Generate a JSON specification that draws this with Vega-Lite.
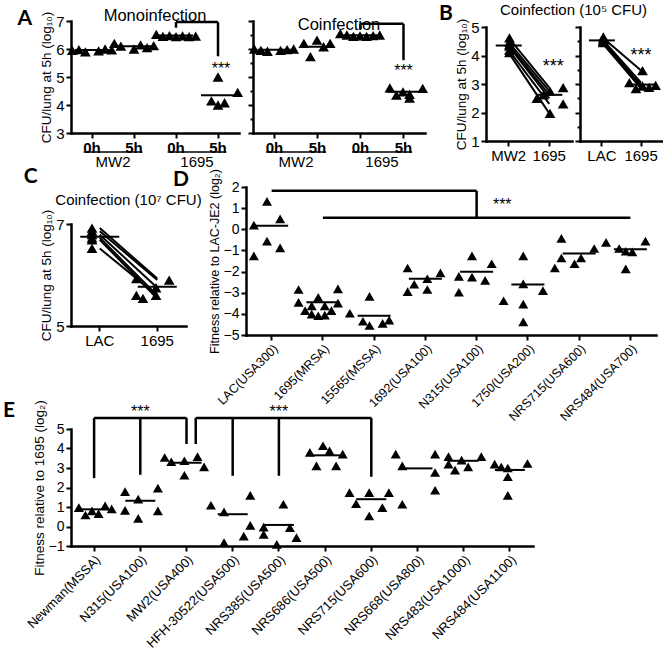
{
  "$schema": "https://vega.github.io/schema/vega-lite/v6.json",
  "background": "white",
  "padding": {"left": 3, "top": 2, "right": 0, "bottom": 0},
  "config": {
    "font": "Liberation Sans",
    "view": {"stroke": null},
    "axis": {
      "domainColor": "black", "domainWidth": 2.5, "domainCap": "square",
      "tickColor": "black", "tickWidth": 2, "tickSize": 5,
      "labelColor": "black", "labelFont": "Liberation Sans", "labelFontSize": 15, "labelPadding": 2, "labelOverlap": false,
      "titleColor": "black", "titleFont": "Liberation Sans", "titleFontSize": 14, "titleFontWeight": "normal", "titlePadding": 2,
      "grid": false
    },
    "title": {"font": "Liberation Sans", "fontSize": 16.5, "fontWeight": "normal", "color": "black", "anchor": "middle"},
    "tick": {"color": "black", "thickness": 2, "opacity": 1},
    "point": {"shape": "triangle-up", "filled": true, "color": "black", "opacity": 1},
    "rule": {"color": "black", "strokeWidth": 2.5},
    "text": {"color": "black"}
  },
  "datasets": {
    "spacer": [{}],
    "aMono": [
      {"cond": "MW2 0h", "rep": "a", "v": 5.95}, {"cond": "MW2 0h", "rep": "b", "v": 5.98}, {"cond": "MW2 0h", "rep": "c", "v": 5.9},
      {"cond": "MW2 0h", "rep": "e", "v": 5.93}, {"cond": "MW2 0h", "rep": "f", "v": 6.0}, {"cond": "MW2 0h", "rep": "g", "v": 5.97},
      {"cond": "MW2 5h", "rep": "a", "v": 6.2}, {"cond": "MW2 5h", "rep": "b", "v": 6.1}, {"cond": "MW2 5h", "rep": "d", "v": 6.0},
      {"cond": "MW2 5h", "rep": "e", "v": 6.15}, {"cond": "MW2 5h", "rep": "f", "v": 6.05}, {"cond": "MW2 5h", "rep": "g", "v": 6.12},
      {"cond": "1695 0h", "rep": "a", "v": 6.52}, {"cond": "1695 0h", "rep": "b", "v": 6.45}, {"cond": "1695 0h", "rep": "c", "v": 6.48},
      {"cond": "1695 0h", "rep": "d", "v": 6.44}, {"cond": "1695 0h", "rep": "e", "v": 6.47}, {"cond": "1695 0h", "rep": "f", "v": 6.44},
      {"cond": "1695 0h", "rep": "g", "v": 6.46},
      {"cond": "1695 5h", "rep": "c", "v": 4.15}, {"cond": "1695 5h", "rep": "d", "v": 5.0}, {"cond": "1695 5h", "rep": "d", "v": 4.0},
      {"cond": "1695 5h", "rep": "e", "v": 4.08}, {"cond": "1695 5h", "rep": "g", "v": 4.45}
    ],
    "aMonoMean": [
      {"cond": "MW2 0h", "v": 5.96}, {"cond": "MW2 5h", "v": 6.1}, {"cond": "1695 0h", "v": 6.48}, {"cond": "1695 5h", "v": 4.35}
    ],
    "aMonoBr": [
      {"c1": "1695 0h", "c2": "1695 5h", "y1": 6.96, "y2": 6.96},
      {"c1": "1695 0h", "c2": "1695 0h", "y1": 6.96, "y2": 6.76},
      {"c1": "1695 5h", "c2": "1695 5h", "y1": 6.96, "y2": 5.74}
    ],
    "aMonoStar": [{"cond": "1695 5h", "v": 5.3, "t": "***"}],
    "aCo": [
      {"cond": "MW2 0h", "rep": "a", "v": 6.0}, {"cond": "MW2 0h", "rep": "b", "v": 5.95}, {"cond": "MW2 0h", "rep": "c", "v": 5.92},
      {"cond": "MW2 0h", "rep": "e", "v": 5.95}, {"cond": "MW2 0h", "rep": "f", "v": 5.98}, {"cond": "MW2 0h", "rep": "g", "v": 6.0},
      {"cond": "MW2 5h", "rep": "b", "v": 6.2}, {"cond": "MW2 5h", "rep": "d", "v": 6.32}, {"cond": "MW2 5h", "rep": "f", "v": 6.2},
      {"cond": "MW2 5h", "rep": "e", "v": 6.08}, {"cond": "MW2 5h", "rep": "c", "v": 5.73},
      {"cond": "1695 0h", "rep": "a", "v": 6.55}, {"cond": "1695 0h", "rep": "b", "v": 6.5}, {"cond": "1695 0h", "rep": "c", "v": 6.45},
      {"cond": "1695 0h", "rep": "d", "v": 6.47}, {"cond": "1695 0h", "rep": "e", "v": 6.45}, {"cond": "1695 0h", "rep": "f", "v": 6.48},
      {"cond": "1695 0h", "rep": "g", "v": 6.5},
      {"cond": "1695 5h", "rep": "b", "v": 4.61}, {"cond": "1695 5h", "rep": "d", "v": 4.47}, {"cond": "1695 5h", "rep": "e", "v": 4.38},
      {"cond": "1695 5h", "rep": "g", "v": 4.59}, {"cond": "1695 5h", "rep": "e", "v": 4.25}, {"cond": "1695 5h", "rep": "c", "v": 4.35}
    ],
    "aCoMean": [
      {"cond": "MW2 0h", "v": 5.97}, {"cond": "MW2 5h", "v": 6.08}, {"cond": "1695 0h", "v": 6.49}, {"cond": "1695 5h", "v": 4.47}
    ],
    "aCoBr": [
      {"c1": "1695 0h", "c2": "1695 5h", "y1": 6.9, "y2": 6.9},
      {"c1": "1695 0h", "c2": "1695 0h", "y1": 6.9, "y2": 6.7},
      {"c1": "1695 5h", "c2": "1695 5h", "y1": 6.9, "y2": 5.6}
    ],
    "aCoStar": [{"cond": "1695 5h", "v": 5.21, "t": "***"}],
    "aGroups": [
      {"g": "MW2", "at": "MW2 0h", "to": "MW2 5h"},
      {"g": "1695", "at": "1695 0h", "to": "1695 5h"}
    ],
    "bl": [
      {"pair": 1, "cat": "MW2", "rep": "d", "v": 4.62}, {"pair": 1, "cat": "1695", "rep": "f", "v": 2.87},
      {"pair": 2, "cat": "MW2", "rep": "d", "v": 4.47}, {"pair": 2, "cat": "1695", "rep": "d", "v": 2.75},
      {"pair": 3, "cat": "MW2", "rep": "d", "v": 4.38}, {"pair": 3, "cat": "1695", "rep": "c", "v": 2.62},
      {"pair": 4, "cat": "MW2", "rep": "d", "v": 4.33}, {"pair": 4, "cat": "1695", "rep": "b", "v": 2.5},
      {"pair": 5, "cat": "MW2", "rep": "d", "v": 4.19}, {"pair": 5, "cat": "1695", "rep": "f", "v": 2.3},
      {"pair": 6, "cat": "MW2", "rep": "d", "v": 4.1}, {"pair": 6, "cat": "1695", "rep": "d", "v": 1.97}
    ],
    "blMean": [{"cat": "MW2", "v": 4.35}, {"cat": "1695", "v": 2.62}],
    "blStar": [{"cat": "1695", "v": 3.6, "t": "***"}],
    "br": [
      {"pair": 1, "cat": "LAC", "rep": "d", "v": 4.65}, {"pair": 1, "cat": "1695", "rep": "d", "v": 3.47},
      {"pair": 2, "cat": "LAC", "rep": "d", "v": 4.58}, {"pair": 2, "cat": "1695", "rep": "b", "v": 3.05},
      {"pair": 3, "cat": "LAC", "rep": "d", "v": 4.53}, {"pair": 3, "cat": "1695", "rep": "d", "v": 2.93},
      {"pair": 4, "cat": "LAC", "rep": "d", "v": 4.5}, {"pair": 4, "cat": "1695", "rep": "f", "v": 2.95},
      {"pair": 5, "cat": "LAC", "rep": "d", "v": 4.47}, {"pair": 5, "cat": "1695", "rep": "c", "v": 2.84},
      {"pair": 6, "cat": "LAC", "rep": "d", "v": 4.45}, {"pair": 6, "cat": "1695", "rep": "e", "v": 2.88}
    ],
    "brMean": [{"cat": "LAC", "v": 4.53}, {"cat": "1695", "v": 2.98}],
    "brStar": [{"cat": "1695", "v": 3.97, "t": "***"}],
    "c": [
      {"pair": 1, "cat": "LAC", "rep": "d", "v": 6.92}, {"pair": 1, "cat": "1695", "rep": "b", "v": 5.93},
      {"pair": 2, "cat": "LAC", "rep": "d", "v": 6.86}, {"pair": 2, "cat": "1695", "rep": "g", "v": 5.9},
      {"pair": 3, "cat": "LAC", "rep": "d", "v": 6.79}, {"pair": 3, "cat": "1695", "rep": "e", "v": 5.75},
      {"pair": 4, "cat": "LAC", "rep": "d", "v": 6.73}, {"pair": 4, "cat": "1695", "rep": "e", "v": 5.6},
      {"pair": 5, "cat": "LAC", "rep": "d", "v": 6.69}, {"pair": 5, "cat": "1695", "rep": "c", "v": 5.54},
      {"pair": 6, "cat": "LAC", "rep": "d", "v": 6.52}, {"pair": 6, "cat": "1695", "rep": "b", "v": 5.6}
    ],
    "cMean": [{"cat": "LAC", "v": 6.75}, {"cat": "1695", "v": 5.77}],
    "d": [
      {"cat": "LAC(USA300)", "rep": "d", "v": 1.32}, {"cat": "LAC(USA300)", "rep": "f", "v": 0.49}, {"cat": "LAC(USA300)", "rep": "b", "v": 0.2},
      {"cat": "LAC(USA300)", "rep": "d", "v": -0.56}, {"cat": "LAC(USA300)", "rep": "f", "v": -0.88}, {"cat": "LAC(USA300)", "rep": "b", "v": -1.26},
      {"cat": "1695(MRSA)", "rep": "a", "v": -2.85}, {"cat": "1695(MRSA)", "rep": "g", "v": -2.82}, {"cat": "1695(MRSA)", "rep": "d", "v": -3.22},
      {"cat": "1695(MRSA)", "rep": "a", "v": -3.46}, {"cat": "1695(MRSA)", "rep": "g", "v": -3.49}, {"cat": "1695(MRSA)", "rep": "c", "v": -3.62},
      {"cat": "1695(MRSA)", "rep": "e", "v": -3.62}, {"cat": "1695(MRSA)", "rep": "b", "v": -3.85}, {"cat": "1695(MRSA)", "rep": "f", "v": -3.85},
      {"cat": "1695(MRSA)", "rep": "c", "v": -4.01}, {"cat": "1695(MRSA)", "rep": "e", "v": -4.06}, {"cat": "1695(MRSA)", "rep": "d", "v": -4.09},
      {"cat": "15565(MSSA)", "rep": "d", "v": -3.17}, {"cat": "15565(MSSA)", "rep": "a", "v": -3.97}, {"cat": "15565(MSSA)", "rep": "c", "v": -4.35},
      {"cat": "15565(MSSA)", "rep": "d", "v": -4.55}, {"cat": "15565(MSSA)", "rep": "f", "v": -4.45}, {"cat": "15565(MSSA)", "rep": "g", "v": -4.3},
      {"cat": "1692(USA100)", "rep": "b", "v": -1.83}, {"cat": "1692(USA100)", "rep": "e", "v": -2.34}, {"cat": "1692(USA100)", "rep": "g", "v": -2.06},
      {"cat": "1692(USA100)", "rep": "c", "v": -2.6}, {"cat": "1692(USA100)", "rep": "b", "v": -2.95}, {"cat": "1692(USA100)", "rep": "e", "v": -2.85},
      {"cat": "N315(USA100)", "rep": "d", "v": -1.26}, {"cat": "N315(USA100)", "rep": "g", "v": -1.63}, {"cat": "N315(USA100)", "rep": "b", "v": -2.23},
      {"cat": "N315(USA100)", "rep": "d", "v": -2.26}, {"cat": "N315(USA100)", "rep": "f", "v": -2.42}, {"cat": "N315(USA100)", "rep": "b", "v": -2.98},
      {"cat": "1750(USA200)", "rep": "d", "v": -1.26}, {"cat": "1750(USA200)", "rep": "d", "v": -2.58}, {"cat": "1750(USA200)", "rep": "g", "v": -2.9},
      {"cat": "1750(USA200)", "rep": "a", "v": -3.38}, {"cat": "1750(USA200)", "rep": "d", "v": -3.54}, {"cat": "1750(USA200)", "rep": "d", "v": -4.38},
      {"cat": "NRS715(USA600)", "rep": "b", "v": -0.43}, {"cat": "NRS715(USA600)", "rep": "g", "v": -0.91}, {"cat": "NRS715(USA600)", "rep": "b", "v": -1.36},
      {"cat": "NRS715(USA600)", "rep": "e", "v": -1.36}, {"cat": "NRS715(USA600)", "rep": "d", "v": -1.63}, {"cat": "NRS715(USA600)", "rep": "a", "v": -1.83},
      {"cat": "NRS484(USA700)", "rep": "a", "v": -0.62}, {"cat": "NRS484(USA700)", "rep": "g", "v": -0.56}, {"cat": "NRS484(USA700)", "rep": "c", "v": -0.91},
      {"cat": "NRS484(USA700)", "rep": "d", "v": -1.04}, {"cat": "NRS484(USA700)", "rep": "e", "v": -1.07}, {"cat": "NRS484(USA700)", "rep": "d", "v": -1.87}
    ],
    "dMean": [
      {"cat": "LAC(USA300)", "v": 0.17}, {"cat": "1695(MRSA)", "v": -3.45}, {"cat": "15565(MSSA)", "v": -4.09}, {"cat": "1692(USA100)", "v": -2.34},
      {"cat": "N315(USA100)", "v": -2.01}, {"cat": "1750(USA200)", "v": -2.61}, {"cat": "NRS715(USA600)", "v": -1.15}, {"cat": "NRS484(USA700)", "v": -0.94}
    ],
    "dBr": [
      {"c1": "LAC(USA300)", "c2": "N315(USA100)", "y1": 1.82, "y2": 1.82},
      {"c1": "N315(USA100)", "c2": "N315(USA100)", "y1": 1.82, "y2": 0.55},
      {"c1": "1695(MRSA)", "c2": "NRS484(USA700)", "y1": 0.55, "y2": 0.55}
    ],
    "dStar": [{"cat": "1750(USA200)", "v": 1.16, "t": "***"}],
    "e": [
      {"cat": "Newman(MSSA)", "rep": "b", "v": 0.97}, {"cat": "Newman(MSSA)", "rep": "c", "v": 0.59}, {"cat": "Newman(MSSA)", "rep": "d", "v": 0.8},
      {"cat": "Newman(MSSA)", "rep": "e", "v": 0.66}, {"cat": "Newman(MSSA)", "rep": "f", "v": 1.06}, {"cat": "Newman(MSSA)", "rep": "g", "v": 0.9},
      {"cat": "N315(USA100)", "rep": "b", "v": 1.79}, {"cat": "N315(USA100)", "rep": "b", "v": 0.83}, {"cat": "N315(USA100)", "rep": "d", "v": 1.4},
      {"cat": "N315(USA100)", "rep": "d", "v": 0.42}, {"cat": "N315(USA100)", "rep": "g", "v": 1.97}, {"cat": "N315(USA100)", "rep": "g", "v": 0.8},
      {"cat": "MW2(USA400)", "rep": "a", "v": 3.54}, {"cat": "MW2(USA400)", "rep": "b", "v": 3.32}, {"cat": "MW2(USA400)", "rep": "d", "v": 3.37},
      {"cat": "MW2(USA400)", "rep": "f", "v": 3.58}, {"cat": "MW2(USA400)", "rep": "g", "v": 3.06}, {"cat": "MW2(USA400)", "rep": "d", "v": 2.63},
      {"cat": "HFH-30522(USA500)", "rep": "a", "v": 1.09}, {"cat": "HFH-30522(USA500)", "rep": "c", "v": 0.75}, {"cat": "HFH-30522(USA500)", "rep": "g", "v": 1.6},
      {"cat": "HFH-30522(USA500)", "rep": "g", "v": 0.06}, {"cat": "HFH-30522(USA500)", "rep": "f", "v": -0.49}, {"cat": "HFH-30522(USA500)", "rep": "c", "v": -0.83},
      {"cat": "NRS385(USA500)", "rep": "e", "v": 1.14}, {"cat": "NRS385(USA500)", "rep": "b", "v": -0.03}, {"cat": "NRS385(USA500)", "rep": "f", "v": -0.06},
      {"cat": "NRS385(USA500)", "rep": "b", "v": -0.4}, {"cat": "NRS385(USA500)", "rep": "g", "v": -0.57}, {"cat": "NRS385(USA500)", "rep": "d", "v": -0.92},
      {"cat": "NRS686(USA500)", "rep": "b", "v": 3.8}, {"cat": "NRS686(USA500)", "rep": "d", "v": 4.14}, {"cat": "NRS686(USA500)", "rep": "g", "v": 3.71},
      {"cat": "NRS686(USA500)", "rep": "c", "v": 3.11}, {"cat": "NRS686(USA500)", "rep": "f", "v": 3.11}, {"cat": "NRS686(USA500)", "rep": "e", "v": 3.88},
      {"cat": "NRS715(USA600)", "rep": "a", "v": 1.74}, {"cat": "NRS715(USA600)", "rep": "d", "v": 1.74}, {"cat": "NRS715(USA600)", "rep": "g", "v": 1.74},
      {"cat": "NRS715(USA600)", "rep": "b", "v": 1.17}, {"cat": "NRS715(USA600)", "rep": "f", "v": 0.97}, {"cat": "NRS715(USA600)", "rep": "d", "v": 0.54},
      {"cat": "NRS668(USA800)", "rep": "a", "v": 3.71}, {"cat": "NRS668(USA800)", "rep": "g", "v": 3.71}, {"cat": "NRS668(USA800)", "rep": "b", "v": 3.11},
      {"cat": "NRS668(USA800)", "rep": "g", "v": 2.77}, {"cat": "NRS668(USA800)", "rep": "g", "v": 1.86}, {"cat": "NRS668(USA800)", "rep": "b", "v": 1.14},
      {"cat": "NRS483(USA1000)", "rep": "b", "v": 3.58}, {"cat": "NRS483(USA1000)", "rep": "g", "v": 3.58}, {"cat": "NRS483(USA1000)", "rep": "b", "v": 3.2},
      {"cat": "NRS483(USA1000)", "rep": "e", "v": 3.06}, {"cat": "NRS483(USA1000)", "rep": "c", "v": 2.89}, {"cat": "NRS483(USA1000)", "rep": "d", "v": 3.4},
      {"cat": "NRS484(USA1100)", "rep": "b", "v": 3.2}, {"cat": "NRS484(USA1100)", "rep": "g", "v": 3.23}, {"cat": "NRS484(USA1100)", "rep": "d", "v": 3.0},
      {"cat": "NRS484(USA1100)", "rep": "c", "v": 3.05}, {"cat": "NRS484(USA1100)", "rep": "d", "v": 2.55}, {"cat": "NRS484(USA1100)", "rep": "d", "v": 1.6}
    ],
    "eMean": [
      {"cat": "Newman(MSSA)", "v": 0.88}, {"cat": "N315(USA100)", "v": 1.32}, {"cat": "MW2(USA400)", "v": 3.27}, {"cat": "HFH-30522(USA500)", "v": 0.63},
      {"cat": "NRS385(USA500)", "v": 0.08}, {"cat": "NRS686(USA500)", "v": 3.65}, {"cat": "NRS715(USA600)", "v": 1.4}, {"cat": "NRS668(USA800)", "v": 2.98},
      {"cat": "NRS483(USA1000)", "v": 3.37}, {"cat": "NRS484(USA1100)", "v": 2.9}
    ],
    "eBr": [
      {"c1": "Newman(MSSA)", "c2": "MW2(USA400)", "y1": 5.57, "y2": 5.57},
      {"c1": "Newman(MSSA)", "c2": "Newman(MSSA)", "y1": 5.57, "y2": 2.48},
      {"c1": "N315(USA100)", "c2": "N315(USA100)", "y1": 5.57, "y2": 2.65},
      {"c1": "MW2(USA400)", "c2": "MW2(USA400)", "y1": 5.57, "y2": 4.23},
      {"c1": "HFH-30522(USA500)", "c2": "HFH-30522(USA500)", "y1": 5.57, "y2": 2.6},
      {"c1": "NRS385(USA500)", "c2": "NRS385(USA500)", "y1": 5.57, "y2": 2.6},
      {"c1": "NRS715(USA600)", "c2": "NRS715(USA600)", "y1": 5.57, "y2": 2.55}
    ],
    "eBr2": [{"c1": "MW2(USA400)", "c2": "NRS715(USA600)", "y1": 5.57, "y2": 4.23}],
    "eStar": [{"cat": "N315(USA100)", "v": 5.85, "t": "***"}, {"cat": "NRS385(USA500)", "v": 5.85, "t": "***"}]
  },
  "vconcat": [
    {
      "hconcat": [
        {
          "title": {"text": "A", "orient": "left", "anchor": "end", "angle": 0, "baseline": "top", "align": "right", "font": "Lato", "fontSize": 21, "fontWeight": "bold", "offset": -7},
          "hconcat": [
            {
              "width": 168, "height": 112,
              "title": {"text": "Monoinfection", "offset": -13},
              "layer": [
                {"data": {"name": "aMono"}, "mark": {"type": "point", "size": 115},
                 "encoding": {
                   "x": {"field": "cond", "type": "nominal", "title": null, "scale": {"domain": ["MW2 0h", "MW2 5h", "1695 0h", "1695 5h"], "paddingInner": 0, "paddingOuter": 0},
                         "axis": {"title": null, "labelExpr": "split(datum.label, ' ')[1]", "labelFontWeight": "bold", "labelAngle": 0, "labelFontSize": 15}},
                   "xOffset": {"field": "rep", "type": "nominal", "scale": {"domain": ["a", "b", "c", "d", "e", "f", "g"], "paddingOuter": 0.2}},
                   "y": {"field": "v", "type": "quantitative", "scale": {"domain": [3, 7]}, "axis": {"values": [3, 4, 5, 6, 7], "tickCount": 100, "format": "d", "title": "CFU/lung at 5h (log₁₀)", "titleFontSize": 13.5}}
                 }},
                {"data": {"name": "aMonoMean"}, "mark": {"type": "tick", "size": 34},
                 "encoding": {"x": {"field": "cond", "type": "nominal", "title": null}, "y": {"field": "v", "type": "quantitative"}}},
                {"data": {"name": "aMonoBr"}, "mark": {"type": "rule"},
                 "encoding": {"x": {"field": "c1", "type": "nominal", "title": null}, "x2": {"field": "c2"}, "y": {"field": "y1", "type": "quantitative"}, "y2": {"field": "y2"}}},
                {"data": {"name": "aMonoStar"}, "mark": {"type": "text", "fontSize": 16, "baseline": "middle", "dx": 3},
                 "encoding": {"x": {"field": "cond", "type": "nominal", "title": null}, "y": {"field": "v", "type": "quantitative"}, "text": {"field": "t"}}},
                {"data": {"name": "aGroups"}, "mark": {"type": "text", "fontSize": 15, "baseline": "middle"},
                 "encoding": {"x": {"field": "at", "type": "nominal", "bandPosition": 1, "title": null}, "y": {"datum": 1.95}, "text": {"field": "g"}}},
                {"data": {"name": "aGroups"}, "mark": {"type": "rule", "strokeWidth": 1.5},
                 "encoding": {"x": {"field": "at", "type": "nominal", "bandPosition": 0.3, "title": null}, "x2": {"field": "to", "bandPosition": 0.7}, "y": {"datum": 2.32}}}
              ]
            },
            {
              "width": 172, "height": 112,
              "title": {"text": "Coinfection", "offset": -13},
              "layer": [
                {"data": {"name": "aCo"}, "mark": {"type": "point", "size": 115},
                 "encoding": {
                   "x": {"field": "cond", "type": "nominal", "title": null, "scale": {"domain": ["MW2 0h", "MW2 5h", "1695 0h", "1695 5h"], "paddingInner": 0, "paddingOuter": 0},
                         "axis": {"title": null, "labelExpr": "split(datum.label, ' ')[1]", "labelFontWeight": "bold", "labelAngle": 0, "labelFontSize": 15}},
                   "xOffset": {"field": "rep", "type": "nominal", "scale": {"domain": ["a", "b", "c", "d", "e", "f", "g"], "paddingOuter": 0.2}},
                   "y": {"field": "v", "type": "quantitative", "scale": {"domain": [3, 7]},
                         "axis": {"values": [3, 3.5, 4, 4.5, 5, 5.5, 6, 6.5, 7], "tickCount": 100, "labels": false, "title": null,
                                  "tickSize": {"condition": {"test": "datum.value % 1 == 0", "value": 5}, "value": 3}}}
                 }},
                {"data": {"name": "aCoMean"}, "mark": {"type": "tick", "size": 34},
                 "encoding": {"x": {"field": "cond", "type": "nominal", "title": null}, "y": {"field": "v", "type": "quantitative"}}},
                {"data": {"name": "aCoBr"}, "mark": {"type": "rule"},
                 "encoding": {"x": {"field": "c1", "type": "nominal", "title": null}, "x2": {"field": "c2"}, "y": {"field": "y1", "type": "quantitative"}, "y2": {"field": "y2"}}},
                {"data": {"name": "aCoStar"}, "mark": {"type": "text", "fontSize": 16, "baseline": "middle"},
                 "encoding": {"x": {"field": "cond", "type": "nominal", "title": null}, "y": {"field": "v", "type": "quantitative"}, "text": {"field": "t"}}},
                {"data": {"name": "aGroups"}, "mark": {"type": "text", "fontSize": 15, "baseline": "middle"},
                 "encoding": {"x": {"field": "at", "type": "nominal", "bandPosition": 1, "title": null}, "y": {"datum": 1.95}, "text": {"field": "g"}}},
                {"data": {"name": "aGroups"}, "mark": {"type": "rule", "strokeWidth": 1.5},
                 "encoding": {"x": {"field": "at", "type": "nominal", "bandPosition": 0.3, "title": null}, "x2": {"field": "to", "bandPosition": 0.7}, "y": {"datum": 2.32}}}
              ]
            }
          ],
          "spacing": 3
        },
        {
          "title": {"text": "B", "orient": "left", "anchor": "end", "angle": 0, "baseline": "top", "align": "right", "font": "Lato", "fontSize": 21, "fontWeight": "bold", "offset": -12},
          "vconcat": [
            {"width": 1, "height": 1, "data": {"name": "spacer"}, "mark": {"type": "text"}, "encoding": {"text": {"value": ""}},
             "title": {"text": "Coinfection (10⁵ CFU)", "fontSize": 15, "anchor": "start", "frame": "group", "dx": 14, "offset": -2}},
            {
              "hconcat": [
                {
                  "width": 86, "height": 114,
                  "layer": [
                    {"data": {"name": "bl"}, "mark": {"type": "line", "color": "black", "strokeWidth": 2},
                     "encoding": {
                       "x": {"field": "cat", "type": "nominal", "title": null, "scale": {"domain": ["MW2", "1695"], "paddingInner": 0, "paddingOuter": 0.06}, "axis": {"title": null, "labelAngle": 0, "labelFontSize": 15}},
                       "y": {"field": "v", "type": "quantitative", "scale": {"domain": [1, 5]}, "axis": {"values": [1, 2, 3, 4, 5], "tickCount": 100, "format": "d", "title": "CFU/lung at 5h (log₁₀)", "titleFontSize": 13.5}},
                       "detail": {"field": "pair", "type": "nominal"}
                     }},
                    {"data": {"name": "bl"}, "mark": {"type": "point", "size": 115},
                     "encoding": {
                       "x": {"field": "cat", "type": "nominal", "title": null},
                       "xOffset": {"field": "rep", "type": "nominal", "scale": {"domain": ["a", "b", "c", "d", "e", "f", "g"], "paddingOuter": 5}},
                       "y": {"field": "v", "type": "quantitative"}
                     }},
                    {"data": {"name": "blMean"}, "mark": {"type": "tick", "size": 26},
                     "encoding": {"x": {"field": "cat", "type": "nominal", "title": null}, "y": {"field": "v", "type": "quantitative"}}},
                    {"data": {"name": "blStar"}, "mark": {"type": "text", "fontSize": 18, "baseline": "middle", "dx": 4},
                     "encoding": {"x": {"field": "cat", "type": "nominal", "title": null}, "y": {"field": "v", "type": "quantitative"}, "text": {"field": "t"}}}
                  ]
                },
                {
                  "width": 83, "height": 114,
                  "layer": [
                    {"data": {"name": "br"}, "mark": {"type": "line", "color": "black", "strokeWidth": 2},
                     "encoding": {
                       "x": {"field": "cat", "type": "nominal", "title": null, "scale": {"domain": ["LAC", "1695"], "paddingInner": 0, "paddingOuter": 0.06}, "axis": {"title": null, "labelAngle": 0, "labelFontSize": 15}},
                       "y": {"field": "v", "type": "quantitative", "scale": {"domain": [1, 5]},
                             "axis": {"values": [1, 1.5, 2, 2.5, 3, 3.5, 4, 4.5, 5], "tickCount": 100, "labels": false, "title": null,
                                      "tickSize": {"condition": {"test": "datum.value % 1 == 0", "value": 5}, "value": 3}}},
                       "detail": {"field": "pair", "type": "nominal"}
                     }},
                    {"data": {"name": "br"}, "mark": {"type": "point", "size": 115},
                     "encoding": {
                       "x": {"field": "cat", "type": "nominal", "title": null},
                       "xOffset": {"field": "rep", "type": "nominal", "scale": {"domain": ["a", "b", "c", "d", "e", "f", "g"], "paddingOuter": 5}},
                       "y": {"field": "v", "type": "quantitative"}
                     }},
                    {"data": {"name": "brMean"}, "mark": {"type": "tick", "size": 26},
                     "encoding": {"x": {"field": "cat", "type": "nominal", "title": null}, "y": {"field": "v", "type": "quantitative"}}},
                    {"data": {"name": "brStar"}, "mark": {"type": "text", "fontSize": 18, "baseline": "middle"},
                     "encoding": {"x": {"field": "cat", "type": "nominal", "title": null}, "y": {"field": "v", "type": "quantitative"}, "text": {"field": "t"}}}
                  ]
                }
              ],
              "spacing": 2
            }
          ],
          "spacing": -15
        }
      ],
      "spacing": 10
    },
    {
      "vconcat": [
        {
          "hconcat": [
            {
              "title": {"text": "C", "orient": "left", "anchor": "end", "angle": 0, "baseline": "top", "align": "right", "font": "Lato", "fontSize": 21, "fontWeight": "bold", "offset": -12, "dy": -16},
              "vconcat": [
                {"width": 1, "height": 1, "data": {"name": "spacer"}, "mark": {"type": "text"}, "encoding": {"text": {"value": ""}}},
                {
                  "width": 115, "height": 102,
                  "title": {"text": "Coinfection (10⁷ CFU)", "fontSize": 15, "offset": 1},
                  "layer": [
                    {"data": {"name": "c"}, "mark": {"type": "line", "color": "black", "strokeWidth": 2},
                     "encoding": {
                       "x": {"field": "cat", "type": "nominal", "title": null, "scale": {"domain": ["LAC", "1695"], "paddingInner": 0, "paddingOuter": 0}, "axis": {"title": null, "labelAngle": 0, "labelFontSize": 15}},
                       "y": {"field": "v", "type": "quantitative", "scale": {"domain": [5, 7]},
                             "axis": {"values": [5, 5.1, 5.2, 5.3, 5.4, 5.5, 5.6, 5.7, 5.8, 5.9, 6, 6.1, 6.2, 6.3, 6.4, 6.5, 6.6, 6.7, 6.8, 6.9, 7], "tickCount": 100, "format": "d",
                                      "labelExpr": "abs(datum.value - round(datum.value)) < 0.001 ? datum.label : ''",
                                      "tickSize": {"condition": {"test": "abs(datum.value - round(datum.value)) < 0.001", "value": 5}, "value": 3},
                                      "title": "CFU/lung at 5h (log₁₀)", "titleFontSize": 13.5}},
                       "detail": {"field": "pair", "type": "nominal"}
                     }},
                    {"data": {"name": "c"}, "mark": {"type": "point", "size": 115},
                     "encoding": {
                       "x": {"field": "cat", "type": "nominal", "title": null},
                       "xOffset": {"field": "rep", "type": "nominal", "scale": {"domain": ["a", "b", "c", "d", "e", "f", "g"], "paddingOuter": 3.7}},
                       "y": {"field": "v", "type": "quantitative"}
                     }},
                    {"data": {"name": "cMean"}, "mark": {"type": "tick", "size": 39},
                     "encoding": {"x": {"field": "cat", "type": "nominal", "title": null}, "y": {"field": "v", "type": "quantitative"}}}
                  ]
                }
              ],
              "spacing": 0
            },
            {
              "width": 410, "height": 148,
              "title": {"text": "D", "orient": "left", "anchor": "end", "angle": 0, "baseline": "top", "align": "right", "font": "Lato", "fontSize": 21, "fontWeight": "bold", "offset": 3},
              "layer": [
                {"mark": {"type": "rule", "strokeDash": [2, 3], "strokeWidth": 1.5}, "encoding": {"y": {"datum": 0, "type": "quantitative"}}},
                {"data": {"name": "d"}, "mark": {"type": "point", "size": 100},
                 "encoding": {
                   "x": {"field": "cat", "type": "nominal", "title": null, "scale": {"domain": ["LAC(USA300)", "1695(MRSA)", "15565(MSSA)", "1692(USA100)", "N315(USA100)", "1750(USA200)", "NRS715(USA600)", "NRS484(USA700)"], "paddingInner": 0, "paddingOuter": 0},
                         "axis": {"title": null, "labelAngle": -45, "labelFontSize": 12.5}},
                   "xOffset": {"field": "rep", "type": "nominal", "scale": {"domain": ["a", "b", "c", "d", "e", "f", "g"], "paddingOuter": 3.45}},
                   "y": {"field": "v", "type": "quantitative", "scale": {"domain": [-5, 2]}, "axis": {"values": [-5, -4, -3, -2, -1, 0, 1, 2], "tickCount": 100, "format": "d", "labelFontSize": 14, "title": "Fitness relative to LAC-JE2 (log₂)", "titleFontSize": 12.5}}
                 }},
                {"data": {"name": "dMean"}, "mark": {"type": "tick", "size": 33},
                 "encoding": {"x": {"field": "cat", "type": "nominal", "title": null}, "y": {"field": "v", "type": "quantitative"}}},
                {"data": {"name": "dBr"}, "mark": {"type": "rule"},
                 "encoding": {"x": {"field": "c1", "type": "nominal", "title": null}, "x2": {"field": "c2"}, "y": {"field": "y1", "type": "quantitative"}, "y2": {"field": "y2"}}},
                {"data": {"name": "dStar"}, "mark": {"type": "text", "fontSize": 16, "baseline": "middle"},
                 "encoding": {"x": {"field": "cat", "type": "nominal", "bandPosition": 0, "title": null}, "y": {"field": "v", "type": "quantitative"}, "text": {"field": "t"}}}
              ]
            }
          ],
          "spacing": -29
        },
        {
          "width": 462, "height": 117,
          "title": {"text": "E", "orient": "left", "anchor": "end", "angle": 0, "baseline": "top", "align": "right", "font": "Lato", "fontSize": 21, "fontWeight": "bold", "offset": -2},
          "layer": [
            {"mark": {"type": "rule", "strokeDash": [2, 3], "strokeWidth": 1.5}, "encoding": {"y": {"datum": 0, "type": "quantitative"}}},
            {"data": {"name": "e"}, "mark": {"type": "point", "size": 100},
             "encoding": {
               "x": {"field": "cat", "type": "nominal", "title": null, "scale": {"domain": ["Newman(MSSA)", "N315(USA100)", "MW2(USA400)", "HFH-30522(USA500)", "NRS385(USA500)", "NRS686(USA500)", "NRS715(USA600)", "NRS668(USA800)", "NRS483(USA1000)", "NRS484(USA1100)"], "paddingInner": 0, "paddingOuter": 0},
                     "axis": {"title": null, "labelAngle": -45, "labelFontSize": 13}},
               "xOffset": {"field": "rep", "type": "nominal", "scale": {"domain": ["a", "b", "c", "d", "e", "f", "g"], "paddingOuter": 4.2}},
               "y": {"field": "v", "type": "quantitative", "scale": {"domain": [-1, 5]}, "axis": {"values": [-1, 0, 1, 2, 3, 4, 5], "tickCount": 100, "format": "d", "labelFontSize": 14, "title": "Fitness relative to 1695 (log₂)", "titleFontSize": 13.5}}
             }},
            {"data": {"name": "eMean"}, "mark": {"type": "tick", "size": 30},
             "encoding": {"x": {"field": "cat", "type": "nominal", "title": null}, "y": {"field": "v", "type": "quantitative"}}},
            {"data": {"name": "eBr"}, "mark": {"type": "rule"},
             "encoding": {"x": {"field": "c1", "type": "nominal", "title": null}, "x2": {"field": "c2"}, "y": {"field": "y1", "type": "quantitative"}, "y2": {"field": "y2"}}},
            {"data": {"name": "eBr2"}, "mark": {"type": "rule"},
             "encoding": {"x": {"field": "c1", "type": "nominal", "bandPosition": 0.7, "title": null}, "y": {"field": "y1", "type": "quantitative"}, "y2": {"field": "y2"}}},
            {"data": {"name": "eBr2"}, "mark": {"type": "rule"},
             "encoding": {"x": {"field": "c1", "type": "nominal", "bandPosition": 0.7, "title": null}, "x2": {"field": "c2", "bandPosition": 0.5}, "y": {"field": "y1", "type": "quantitative"}}},
            {"data": {"name": "eStar"}, "mark": {"type": "text", "fontSize": 16, "baseline": "middle"},
             "encoding": {"x": {"field": "cat", "type": "nominal", "title": null}, "y": {"field": "v", "type": "quantitative"}, "text": {"field": "t"}}}
          ]
        }
      ],
      "spacing": -25
    }
  ],
  "spacing": -6
}
